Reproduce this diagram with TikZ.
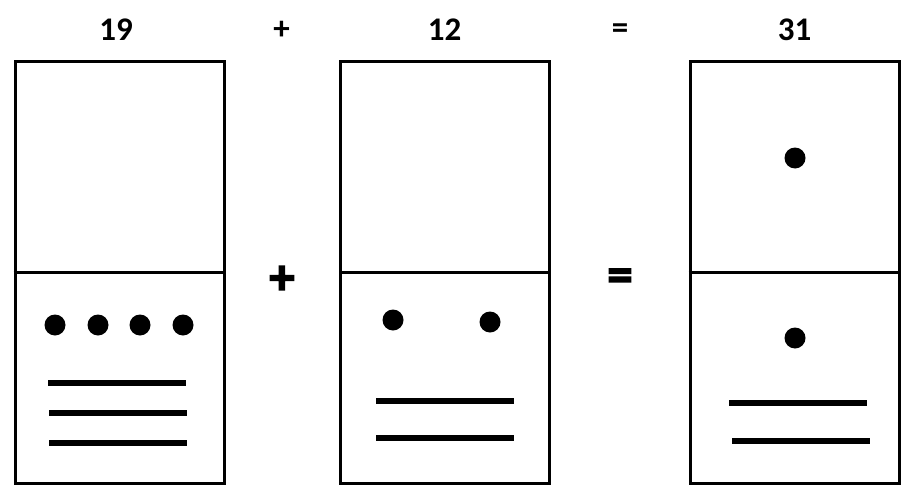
\documentclass[tikz,border=0pt]{standalone}
\usepackage{fontspec}
\setmainfont{Carlito}
\newfontface\signfont{Carlito Bold}[FakeBold=3]
\usepackage{tikz}
\usetikzlibrary{positioning, calc}

\begin{document}
\begin{tikzpicture}[x=1pt, y=-1pt,
    domino/.style={draw, line width=3pt, minimum width=209pt, minimum height=421pt, inner sep=0pt},
    pip/.style={circle, fill=black, minimum size=21pt, inner sep=0pt},
    bar/.style={line width=6pt},
    head/.style={font=\fontsize{33}{33}\selectfont\bfseries},
    sign/.style={font=\fontsize{50}{50}\signfont}]
  \useasboundingbox (0,0) rectangle (907,487);

  % header
  \node[head] (n19) at (116,30) {19};
  \node[head] (plus1) at (281.5,30) {+};
  \node[head] (n12) at (444.5,30) {12};
  \node[head] (eq1) at (620,31) {=};
  \node[head] (n31) at (794.5,30) {31};

  % dominoes
  \node[domino] (box1) at (119.5,272.5) {};
  \node[domino] (box2) at (445,272.5) {};
  \node[domino] (box3) at (794.5,272.5) {};
  \draw[line width=3pt] (box1.west) -- (box1.east);
  \draw[line width=3pt] (box2.west) -- (box2.east);
  \draw[line width=3pt] (box3.west) -- (box3.east);

  % signs between dominoes
  \node[sign] (plus2) at (282,280) {+};
  \node[sign] (eq2) at (620,280) {=};

  % 19
  \foreach \x [count=\i] in {55,98,140,183}
    \node[pip] (a\i) at (\x,325) {};
  \coordinate (a5) at (48,383);  \coordinate (a6) at (186,383);
  \coordinate (a7) at (49,413);  \coordinate (a8) at (187,413);
  \coordinate (a9) at (49,443);  \coordinate (a10) at (187,443);
  \draw[bar] (a5) -- (a6);
  \draw[bar] (a7) -- (a8);
  \draw[bar] (a9) -- (a10);

  % 12
  \node[pip] (b1) at (393,320) {};
  \node[pip] (b2) at (490,322) {};
  \coordinate (b3) at (376,401);  \coordinate (b4) at (514,401);
  \coordinate (b5) at (376,438);  \coordinate (b6) at (514,438);
  \draw[bar] (b3) -- (b4);
  \draw[bar] (b5) -- (b6);

  % 31
  \node[pip] (c1) at (795,158) {};
  \node[pip] (c2) at (795,338) {};
  \coordinate (c3) at (729,403);  \coordinate (c4) at (867,403);
  \coordinate (c5) at (732,441);  \coordinate (c6) at (870,441);
  \draw[bar] (c3) -- (c4);
  \draw[bar] (c5) -- (c6);
\end{tikzpicture}
\end{document}
